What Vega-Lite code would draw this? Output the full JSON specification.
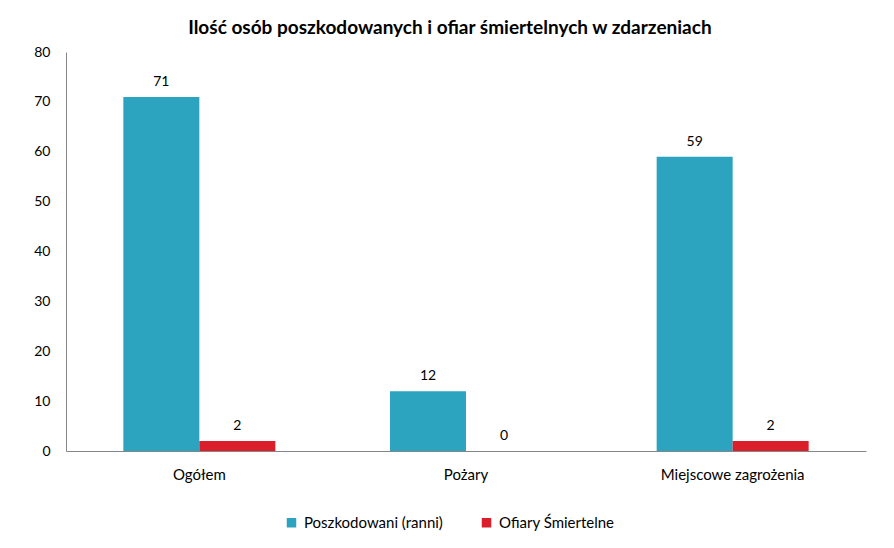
{
  "$schema": "https://vega.github.io/schema/vega-lite/v6.json",
  "width": 800,
  "height": 399,
  "autosize": {"type": "none"},
  "padding": {"left": 66, "top": 52, "right": 28, "bottom": 97},
  "background": "white",
  "title": {
    "text": "Ilość osób poszkodowanych i ofiar śmiertelnych w zdarzeniach",
    "font": "Lato",
    "fontSize": 19,
    "fontWeight": "bold",
    "color": "#000000",
    "anchor": "middle",
    "frame": "bounds",
    "offset": 7
  },
  "data": {
    "values": [
      {"kategoria": "Ogółem", "seria": "Poszkodowani (ranni)", "wartosc": 71},
      {"kategoria": "Ogółem", "seria": "Ofiary Śmiertelne", "wartosc": 2},
      {"kategoria": "Pożary", "seria": "Poszkodowani (ranni)", "wartosc": 12},
      {"kategoria": "Pożary", "seria": "Ofiary Śmiertelne", "wartosc": 0},
      {"kategoria": "Miejscowe zagrożenia", "seria": "Poszkodowani (ranni)", "wartosc": 59},
      {"kategoria": "Miejscowe zagrożenia", "seria": "Ofiary Śmiertelne", "wartosc": 2}
    ]
  },
  "encoding": {
    "x": {
      "field": "kategoria",
      "type": "nominal",
      "sort": ["Ogółem", "Pożary", "Miejscowe zagrożenia"],
      "scale": {"paddingInner": 0.43, "paddingOuter": 0.215},
      "axis": {
        "title": null,
        "labelAngle": 0,
        "ticks": false,
        "domainColor": "#868686",
        "labelFont": "Lato",
        "labelFontSize": 15,
        "labelColor": "#000000",
        "labelPadding": 16
      }
    },
    "xOffset": {
      "field": "seria",
      "type": "nominal",
      "sort": ["Poszkodowani (ranni)", "Ofiary Śmiertelne"],
      "scale": {"paddingInner": 0, "paddingOuter": 0}
    },
    "y": {
      "field": "wartosc",
      "type": "quantitative",
      "scale": {"domain": [0, 80]},
      "axis": {
        "title": null,
        "values": [0, 10, 20, 30, 40, 50, 60, 70, 80],
        "grid": false,
        "ticks": false,
        "domainColor": "#868686",
        "labelFont": "Lato",
        "labelFontSize": 14,
        "labelColor": "#000000",
        "labelPadding": 16
      }
    }
  },
  "layer": [
    {
      "mark": {"type": "bar"},
      "encoding": {
        "color": {
          "field": "seria",
          "type": "nominal",
          "sort": ["Poszkodowani (ranni)", "Ofiary Śmiertelne"],
          "scale": {"domain": ["Poszkodowani (ranni)", "Ofiary Śmiertelne"], "range": ["#2CA3BF", "#DA1F2B"]},
          "legend": {
            "title": null,
            "orient": "none",
            "direction": "horizontal",
            "legendX": 218,
            "legendY": 463,
            "symbolType": "square",
            "symbolSize": 90,
            "symbolStrokeWidth": 0,
            "labelFont": "Lato",
            "labelFontSize": 15,
            "labelColor": "#000000",
            "columnPadding": 36,
            "labelOffset": 5
          }
        }
      }
    },
    {
      "mark": {"type": "text", "baseline": "bottom", "dy": -8, "font": "Lato", "fontSize": 14, "color": "#000000"},
      "encoding": {
        "text": {"field": "wartosc", "type": "quantitative"}
      }
    }
  ],
  "config": {
    "view": {"stroke": null}
  }
}
